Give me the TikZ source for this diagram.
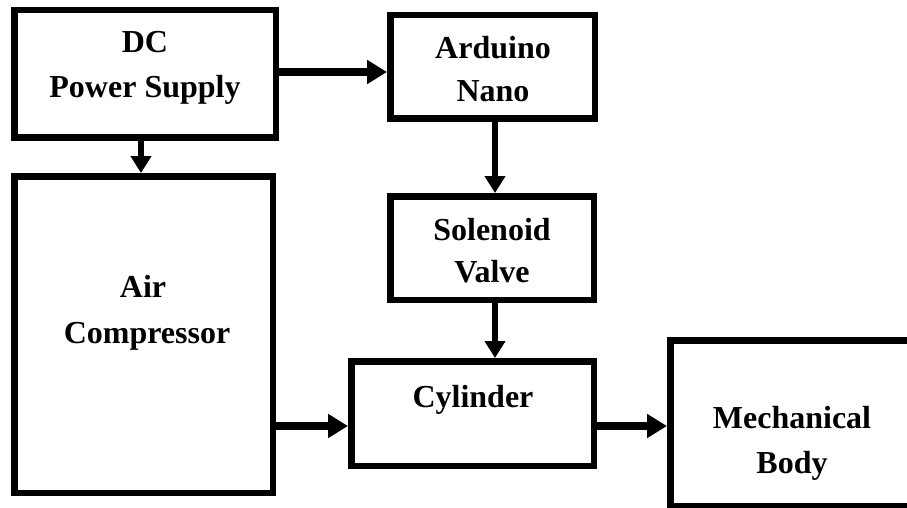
\documentclass[tikz,border=0pt]{standalone}
\usepackage{fontspec}
\setmainfont{Liberation Serif}
\usetikzlibrary{arrows.meta}
\tikzset{
  box/.style={draw, line width=6.5pt, inner sep=0pt, fill=white},
  lbl/.style={anchor=base, inner sep=0pt, font=\fontsize{32}{38}\selectfont\bfseries},
  harrow/.style={line width=8.5pt, -{Triangle[length=20pt,width=23pt]}},
  varrow/.style={line width=6.8pt, -{Triangle[length=17pt,width=20pt]}}
}
\begin{document}
\begin{tikzpicture}[x=1pt,y=-1pt]
\useasboundingbox (0,0) rectangle (907,508);
\clip (0,0) rectangle (907,508);
% boxes
\node[box, minimum width=261.5pt, minimum height=127.5pt] (dc) at (145,74) {};
\node[box, minimum width=204.5pt, minimum height=103.5pt] (ard) at (492.5,67) {};
\node[box, minimum width=203.5pt, minimum height=103.5pt] (sol) at (492,248) {};
\node[box, minimum width=258.5pt, minimum height=316.5pt] (air) at (143.5,334.5) {};
\node[box, minimum width=242.5pt, minimum height=104.5pt] (cyl) at (472.5,413.5) {};
\node[box, minimum width=256.5pt, minimum height=165.5pt] (mech) at (798.5,423) {};
% labels
\node[lbl] (dc1) at (145,53) {DC};
\node[lbl] (dc2) at (145,98) {Power Supply};
\node[lbl] (ard1) at (493,59) {Arduino};
\node[lbl] (ard2) at (493,102) {Nano};
\node[lbl] (sol1) at (492,240) {Solenoid};
\node[lbl] (sol2) at (492,282) {Valve};
\node[lbl] (air1) at (143,297) {Air};
\node[lbl] (air2) at (147,343) {Compressor};
\node[lbl] (cyl1) at (473,407) {Cylinder};
\node[lbl] (mech1) at (792,428) {Mechanical};
\node[lbl] (mech2) at (792,473) {Body};
% connectors
\draw[harrow] ([yshift=2pt]dc.east) -- ([yshift=2pt]dc.east -| ard.west);
\draw[varrow] ([xshift=-2.5pt]air.north |- dc.south) -- ([xshift=-2.5pt]air.north);
\draw[varrow] ([xshift=2.5pt]ard.south) -- ([xshift=2.5pt]ard.south |- sol.north);
\draw[varrow] ([xshift=3pt]sol.south) -- ([xshift=3pt]sol.south |- cyl.north);
\draw[harrow] ([yshift=-12.5pt]cyl.west -| air.east) -- ([yshift=-12.5pt]cyl.west);
\draw[harrow] ([yshift=-12.5pt]cyl.east) -- ([yshift=-12.5pt]cyl.east -| mech.west);
\end{tikzpicture}
\end{document}
